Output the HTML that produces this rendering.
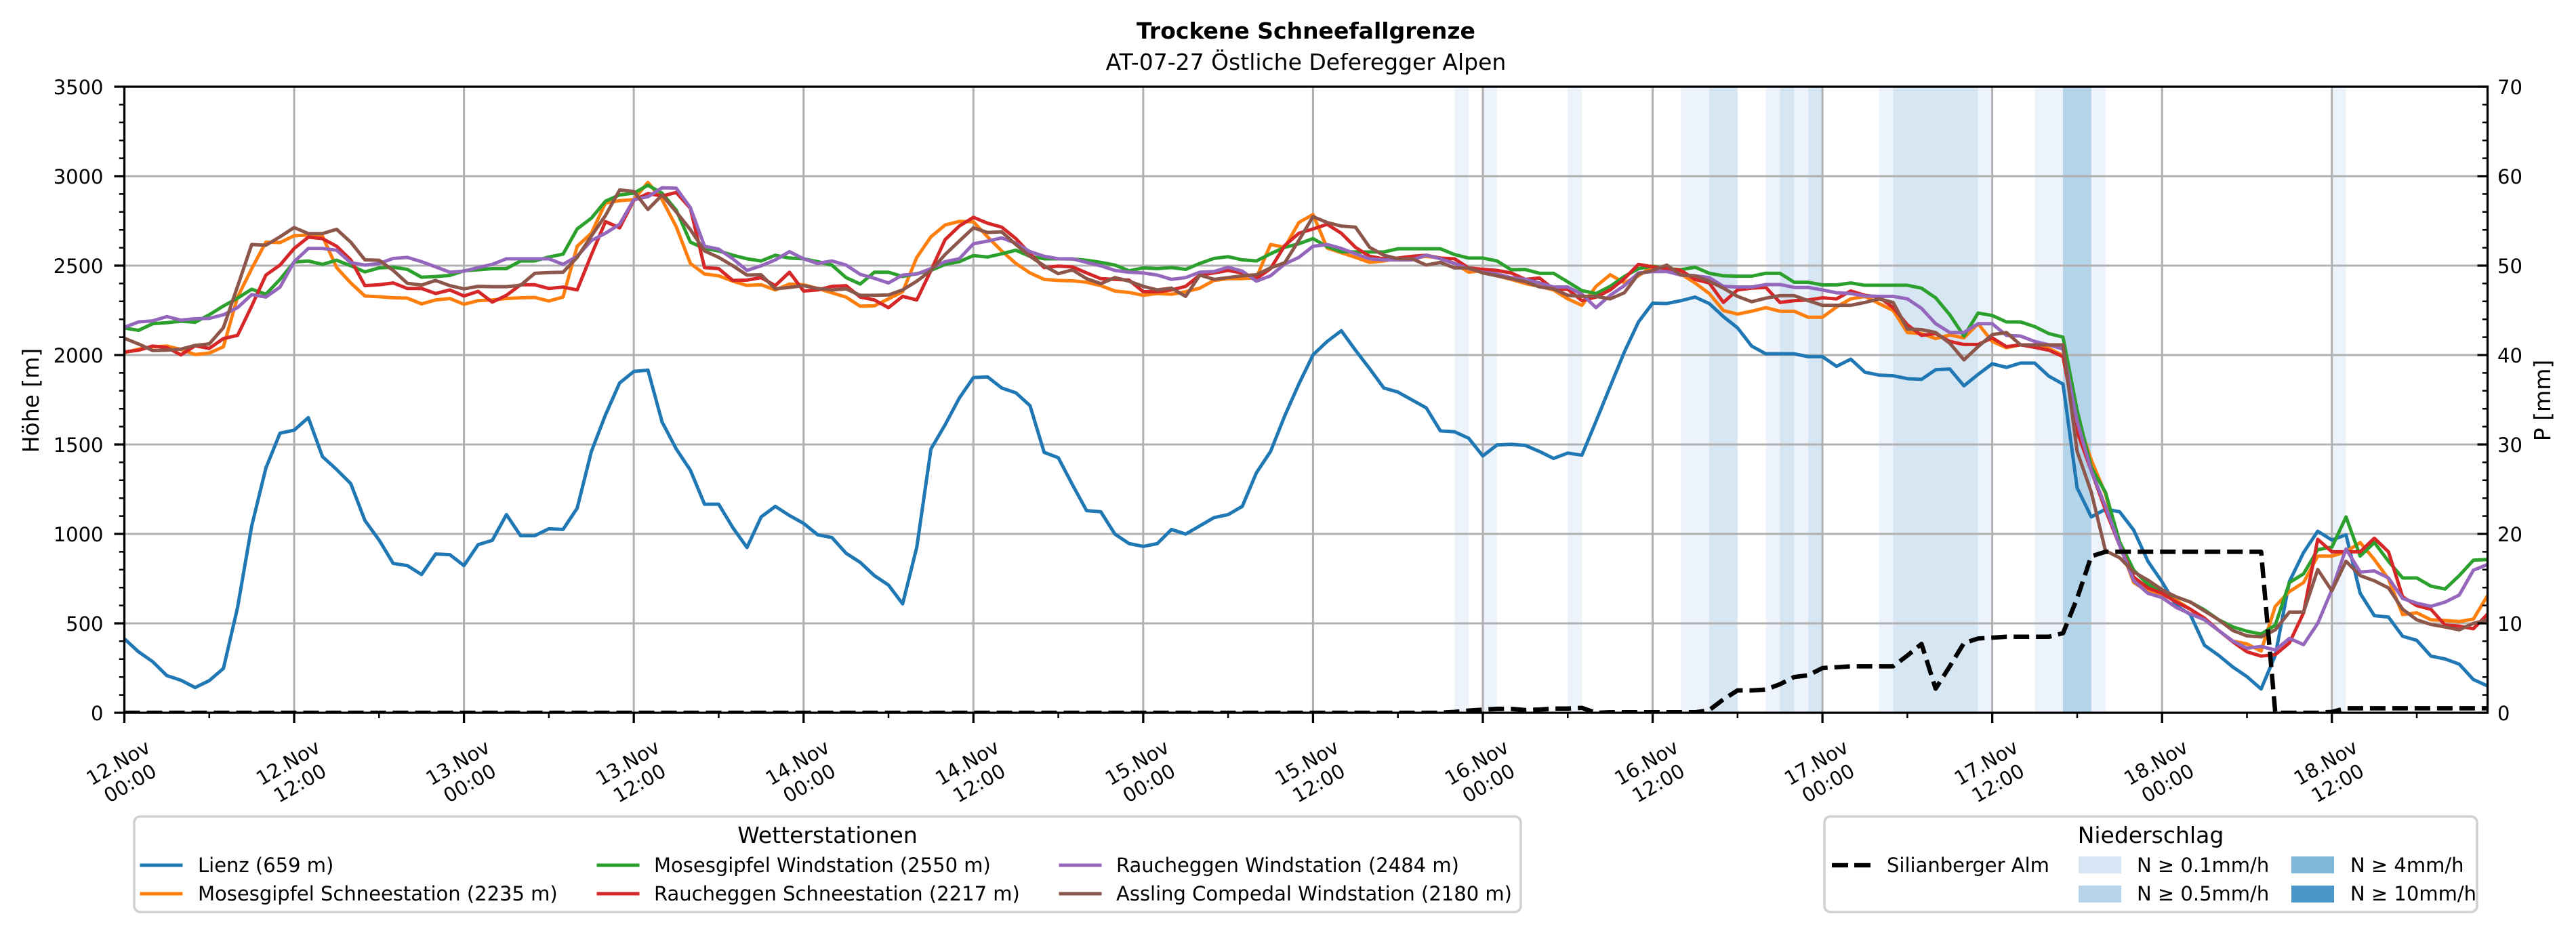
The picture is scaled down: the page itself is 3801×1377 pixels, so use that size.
<!DOCTYPE html>
<html><head><meta charset="utf-8"><style>
html,body{margin:0;padding:0;background:#fff;width:3801px;height:1377px;overflow:hidden}
svg{display:block}
text{font-family:"DejaVu Sans","Liberation Sans",sans-serif;fill:#000}
.d polyline{vector-effect:non-scaling-stroke;fill:none;stroke-width:5;stroke-linejoin:round;stroke-linecap:square}
.tk{font-size:29px}
</style></head><body>
<svg xmlns="http://www.w3.org/2000/svg" width="3801" height="1377" viewBox="0 0 3801 1377">
<defs><clipPath id="c"><rect x="183.5" y="128" width="3487" height="924"/></clipPath></defs>
<rect width="3801" height="1377" fill="#fff"/>

<g clip-path="url(#c)">
<g transform="translate(183.5 1052) scale(20.88 -0.264)">
<rect x="94" y="0" width="1" height="3500" fill="#edf3fb"/>
<rect x="96" y="0" width="1" height="3500" fill="#edf3fb"/>
<rect x="102" y="0" width="1" height="3500" fill="#edf3fb"/>
<rect x="110" y="0" width="2" height="3500" fill="#edf3fb"/>
<rect x="112" y="0" width="2" height="3500" fill="#d6e6f3"/>
<rect x="116" y="0" width="1" height="3500" fill="#edf3fb"/>
<rect x="117" y="0" width="1" height="3500" fill="#d6e6f3"/>
<rect x="118" y="0" width="1" height="3500" fill="#edf3fb"/>
<rect x="119" y="0" width="1" height="3500" fill="#d6e6f3"/>
<rect x="124" y="0" width="1" height="3500" fill="#edf3fb"/>
<rect x="125" y="0" width="6" height="3500" fill="#d6e6f3"/>
<rect x="131" y="0" width="1" height="3500" fill="#edf3fb"/>
<rect x="135" y="0" width="2" height="3500" fill="#edf3fb"/>
<rect x="137" y="0" width="2" height="3500" fill="#b4d4e9"/>
<rect x="139" y="0" width="1" height="3500" fill="#edf3fb"/>
<rect x="156" y="0" width="1" height="3500" fill="#edf3fb"/>
</g>
<g stroke="#b0b0b0" stroke-width="3" fill="none">
<path d="M183.5 128V1052M434.06 128V1052M684.62 128V1052M935.18 128V1052M1185.74 128V1052M1436.3 128V1052M1686.86 128V1052M1937.42 128V1052M2187.98 128V1052M2438.54 128V1052M2689.1 128V1052M2939.66 128V1052M3190.22 128V1052M3440.78 128V1052"/>
<path d="M183.5 1052H3670.5M183.5 920H3670.5M183.5 788H3670.5M183.5 656H3670.5M183.5 524H3670.5M183.5 392H3670.5M183.5 260H3670.5M183.5 128H3670.5"/>
</g>
<g class="d" transform="translate(183.5 1052) scale(20.88 -0.264)">
<polyline stroke="#1f77b4" points="0,414 1,341 2,286 3,208 4,182 5,141 6,180 7,248 8,589 9,1045 10,1368 11,1563 12,1580 13,1650 14,1432 15,1360 16,1281 17,1075 18,966 19,835 20,823 21,773 22,888 23,884 24,823 25,940 26,964 27,1108 28,990 29,990 30,1029 31,1025 32,1144 33,1460 34,1666 35,1844 36,1908 37,1916 38,1626 39,1475 40,1356 41,1166 42,1166 43,1035 44,924 45,1095 46,1154 47,1103 48,1059 49,995 50,980 51,892 52,841 53,767 54,714 55,609 56,926 57,1475 58,1610 59,1759 60,1874 61,1878 62,1816 63,1789 64,1717 65,1456 66,1426 67,1275 68,1130 69,1124 70,999 71,946 72,930 73,946 74,1025 75,999 76,1045 77,1091 78,1108 79,1154 80,1342 81,1461 82,1660 83,1838 84,2001 85,2076 86,2136 87,2027 88,1924 89,1816 90,1793 91,1749 92,1705 93,1576 94,1571 95,1535 96,1436 97,1497 98,1501 99,1495 100,1461 101,1422 102,1452 103,1440 104,1630 105,1824 106,2017 107,2185 108,2290 109,2288 110,2304 111,2324 112,2288 113,2215 114,2152 115,2050 116,2007 117,2007 118,2007 119,1991 120,1991 121,1937 122,1977 123,1904 124,1888 125,1884 126,1868 127,1864 128,1918 129,1922 130,1828 131,1892 132,1951 133,1931 134,1955 135,1955 136,1882 137,1838 138,1257 139,1095 140,1138 141,1124 142,1021 143,847 144,732 145,599 146,549 147,377 148,321 149,256 150,202 151,133 152,321 153,734 154,896 155,1015 156,966 157,995 158,668 159,543 160,535 161,428 162,405 163,317 164,301 165,272 166,186 167,150"/>
<polyline stroke="#ff7f0e" points="0,2013 1,2033 2,2046 3,2050 4,2031 5,2003 6,2011 7,2046 8,2324 9,2483 10,2631 11,2629 12,2667 13,2671 14,2665 15,2489 16,2403 17,2330 18,2326 19,2320 20,2318 21,2286 22,2308 23,2316 24,2284 25,2304 26,2308 27,2316 28,2320 29,2322 30,2302 31,2324 32,2608 33,2681 34,2850 35,2863 36,2869 37,2965 38,2869 39,2717 40,2512 41,2453 42,2443 43,2413 44,2389 45,2393 46,2364 47,2397 48,2393 49,2372 50,2348 51,2324 52,2273 53,2275 54,2314 55,2354 56,2546 57,2661 58,2727 59,2747 60,2745 61,2661 62,2582 63,2512 64,2459 65,2423 66,2417 67,2415 68,2407 69,2388 70,2358 71,2350 72,2334 73,2344 74,2340 75,2354 76,2374 77,2417 78,2427 79,2427 80,2433 81,2618 82,2602 83,2741 84,2786 85,2598 86,2572 87,2546 88,2518 89,2526 90,2542 91,2542 92,2552 93,2542 94,2512 95,2463 96,2473 97,2443 98,2423 99,2400 100,2384 101,2364 102,2314 103,2278 104,2384 105,2449 106,2403 107,2443 108,2497 109,2483 110,2453 111,2403 112,2344 113,2249 114,2229 115,2245 116,2265 117,2245 118,2245 119,2211 120,2211 121,2269 122,2314 123,2328 124,2288 125,2249 126,2126 127,2120 128,2092 129,2112 130,2096 131,2175 132,2076 133,2041 134,2057 135,2050 136,2037 137,1997 138,1650 139,1412 140,1224 141,936 142,728 143,678 144,658 145,629 146,579 147,520 148,460 149,401 150,385 151,345 152,595 153,678 154,728 155,876 156,876 157,900 158,952 159,857 160,748 161,549 162,559 163,520 164,516 165,510 166,524 167,655"/>
<polyline stroke="#2ca02c" points="0,2151 1,2138 2,2175 3,2181 4,2189 5,2183 6,2225 7,2274 8,2318 9,2368 10,2340 11,2423 12,2520 13,2526 14,2507 15,2530 16,2499 17,2465 18,2487 19,2491 20,2479 21,2435 22,2439 23,2445 24,2471 25,2477 26,2483 27,2483 28,2526 29,2526 30,2548 31,2564 32,2705 33,2765 34,2860 35,2895 36,2905 37,2949 38,2905 39,2810 40,2631 41,2596 42,2582 43,2558 44,2538 45,2526 46,2558 47,2542 48,2538 49,2522 50,2503 51,2433 52,2397 53,2463 54,2463 55,2439 56,2455 57,2473 58,2507 59,2522 60,2556 61,2548 62,2566 63,2586 64,2552 65,2538 66,2538 67,2537 68,2530 69,2518 70,2503 71,2471 72,2487 73,2483 74,2489 75,2479 76,2512 77,2540 78,2550 79,2532 80,2526 81,2566 82,2602 83,2622 84,2651 85,2606 86,2578 87,2576 88,2576 89,2576 90,2594 91,2594 92,2594 93,2594 94,2562 95,2542 96,2542 97,2526 98,2477 99,2478 100,2457 101,2457 102,2409 103,2360 104,2344 105,2384 106,2439 107,2483 108,2497 109,2483 110,2477 111,2491 112,2457 113,2443 114,2441 115,2441 116,2457 117,2457 118,2407 119,2407 120,2392 121,2392 122,2403 123,2390 124,2390 125,2390 126,2390 127,2374 128,2320 129,2225 130,2106 131,2235 132,2221 133,2185 134,2185 135,2159 136,2120 137,2100 138,1690 139,1372 140,1233 141,956 142,797 143,718 144,674 145,648 146,619 147,575 148,520 149,480 150,456 151,440 152,490 153,728 154,777 155,912 156,926 157,1095 158,876 159,952 160,847 161,754 162,754 163,708 164,692 165,767 166,853 167,857"/>
<polyline stroke="#d62728" points="0,2017 1,2027 2,2050 3,2042 4,2001 5,2052 6,2037 7,2092 8,2110 9,2274 10,2447 11,2503 12,2596 13,2659 14,2651 15,2608 16,2532 17,2388 18,2393 19,2403 20,2372 21,2372 22,2344 23,2364 24,2330 25,2356 26,2296 27,2334 28,2393 29,2393 30,2372 31,2380 32,2364 33,2560 34,2746 35,2711 36,2865 37,2903 38,2889 39,2909 40,2820 41,2489 42,2483 43,2417 44,2419 45,2433 46,2388 47,2463 48,2358 49,2364 50,2384 51,2388 52,2324 53,2308 54,2265 55,2328 56,2308 57,2473 58,2645 59,2721 60,2770 61,2737 62,2715 63,2651 64,2566 65,2489 66,2497 67,2493 68,2459 69,2427 70,2423 71,2419 72,2354 73,2354 74,2364 75,2384 76,2447 77,2459 78,2473 79,2459 80,2427 81,2483 82,2612 83,2681 84,2705 85,2731 86,2681 87,2602 88,2552 89,2538 90,2542 91,2552 92,2558 93,2542 94,2538 95,2487 96,2479 97,2473 98,2459 99,2423 100,2431 101,2368 102,2368 103,2304 104,2324 105,2364 106,2427 107,2507 108,2493 109,2483 110,2473 111,2423 112,2403 113,2294 114,2364 115,2374 116,2378 117,2294 118,2304 119,2308 120,2320 121,2314 122,2358 123,2334 124,2324 125,2265 126,2169 127,2110 128,2120 129,2076 130,2059 131,2059 132,2096 133,2047 134,2057 135,2043 136,2027 137,1991 138,1571 139,1352 140,1134 141,936 142,758 143,698 144,668 145,619 146,579 147,529 148,460 149,397 150,341 151,317 152,325 153,391 154,559 155,970 156,900 157,900 158,900 159,976 160,900 161,648 162,599 163,579 164,490 165,484 166,470 167,551"/>
<polyline stroke="#9467bd" points="0,2155 1,2185 2,2191 3,2215 4,2195 5,2203 6,2205 7,2225 8,2265 9,2338 10,2324 11,2380 12,2522 13,2596 14,2596 15,2586 16,2516 17,2503 18,2512 19,2540 20,2546 21,2522 22,2493 23,2463 24,2469 25,2489 26,2507 27,2538 28,2538 29,2538 30,2538 31,2507 32,2552 33,2640 34,2681 35,2731 36,2869 37,2885 38,2935 39,2933 40,2824 41,2608 42,2592 43,2538 44,2473 45,2499 46,2532 47,2578 48,2538 49,2512 50,2526 51,2503 52,2451 53,2429 54,2403 55,2447 56,2453 57,2483 58,2522 59,2538 60,2622 61,2637 62,2655 63,2625 64,2578 65,2552 66,2538 67,2538 68,2518 69,2499 70,2473 71,2463 72,2459 73,2447 74,2423 75,2433 76,2463 77,2467 78,2491 79,2469 80,2413 81,2443 82,2509 83,2546 84,2608 85,2618 86,2596 87,2566 88,2538 89,2532 90,2532 91,2532 92,2558 93,2538 94,2512 95,2483 96,2463 97,2453 98,2433 99,2423 100,2403 101,2380 102,2380 103,2340 104,2265 105,2334 106,2388 107,2459 108,2467 109,2467 110,2447 111,2443 112,2433 113,2384 114,2380 115,2380 116,2394 117,2394 118,2378 119,2378 120,2364 121,2348 122,2344 123,2330 124,2328 125,2328 126,2314 127,2261 128,2175 129,2126 130,2126 131,2175 132,2175 133,2110 134,2106 135,2076 136,2057 137,2033 138,1630 139,1352 140,1154 141,936 142,738 143,668 144,644 145,589 146,553 147,520 148,460 149,401 150,361 151,371 152,351 153,416 154,381 155,500 156,688 157,916 158,787 159,793 160,754 161,639 162,613 163,595 164,619 165,658 166,797 167,829"/>
<polyline stroke="#8c564b" points="0,2094 1,2062 2,2025 3,2027 4,2033 5,2054 6,2062 7,2153 8,2384 9,2618 10,2614 11,2661 12,2713 13,2679 14,2679 15,2703 16,2631 17,2532 18,2530 19,2473 20,2401 21,2391 22,2417 23,2388 24,2370 25,2384 26,2382 27,2382 28,2390 29,2457 30,2461 31,2463 32,2546 33,2665 34,2780 35,2923 36,2915 37,2814 38,2895 39,2800 40,2701 41,2582 42,2546 43,2499 44,2447 45,2449 46,2370 47,2378 48,2388 49,2372 50,2364 51,2370 52,2334 53,2334 54,2336 55,2364 56,2413 57,2473 58,2562 59,2637 60,2711 61,2685 62,2689 63,2618 64,2552 65,2499 66,2455 67,2476 68,2427 69,2399 70,2433 71,2413 72,2384 73,2364 74,2374 75,2328 76,2447 77,2423 78,2433 79,2443 80,2449 81,2487 82,2516 83,2641 84,2774 85,2741 86,2721 87,2715 88,2602 89,2558 90,2538 91,2538 92,2503 93,2518 94,2487 95,2487 96,2459 97,2443 98,2427 99,2410 100,2381 101,2370 102,2334 103,2328 104,2328 105,2314 106,2348 107,2453 108,2473 109,2503 110,2447 111,2443 112,2413 113,2374 114,2328 115,2298 116,2318 117,2332 118,2332 119,2304 120,2278 121,2278 122,2278 123,2294 124,2314 125,2294 126,2146 127,2142 128,2126 129,2066 130,1973 131,2047 132,2114 133,2126 134,2057 135,2057 136,2057 137,2057 138,1461 139,1233 140,906 141,867 142,787 143,742 144,688 145,648 146,619 147,569 148,520 149,460 150,430 151,424 152,464 153,563 154,563 155,801 156,682 157,847 158,767 159,738 160,698 161,579 162,520 163,494 164,480 165,464 166,500 167,520"/>
</g>
<polyline fill="none" stroke="#000" stroke-width="6.5" stroke-dasharray="23 10" stroke-linejoin="round" points="183.5,1052 2125.3,1052 2146.2,1050.7 2167.1,1048.7 2188,1047.4 2208.9,1046.1 2229.7,1046.1 2250.6,1048 2271.5,1047.2 2292.4,1045.7 2313.3,1045.7 2334.1,1044.7 2355,1052 2375.9,1051.3 2501.2,1051.3 2522.1,1048 2542.9,1032.2 2563.8,1019 2584.7,1019 2605.6,1017.7 2626.5,1009.8 2647.3,999.2 2668.2,996.6 2689.1,986 2710,984.7 2730.9,983.4 2793.5,983.4 2814.4,967.5 2835.3,950.4 2856.1,1016.4 2877,983.4 2897.9,949 2918.8,942.4 2939.7,941.1 2960.5,939.8 3023.2,939.8 3044.1,934.5 3064.9,883 3085.8,821 3106.7,814.4 3336.4,814.4 3357.3,1052 3419.9,1052 3440.8,1050.7 3461.7,1045.4 3670.5,1045.4"/>
</g>

<!-- spines -->
<rect x="183.5" y="128" width="3487" height="924" fill="none" stroke="#000" stroke-width="3.3"/>

<!-- x ticks -->
<path stroke="#000" stroke-width="3.3" d="M183.5 1052v15M434.06 1052v15M684.62 1052v15M935.18 1052v15M1185.74 1052v15M1436.3 1052v15M1686.86 1052v15M1937.42 1052v15M2187.98 1052v15M2438.54 1052v15M2689.1 1052v15M2939.66 1052v15M3190.22 1052v15M3440.78 1052v15"/>
<path stroke="#000" stroke-width="2.5" d="M308.78 1052v8M559.34 1052v8M809.9 1052v8M1060.46 1052v8M1311.02 1052v8M1561.58 1052v8M1812.14 1052v8M2062.7 1052v8M2313.26 1052v8M2563.82 1052v8M2814.38 1052v8M3064.94 1052v8M3315.5 1052v8M3566.06 1052v8"/>
<!-- left y ticks -->
<path stroke="#000" stroke-width="3.3" d="M168.5 1052h15M168.5 920h15M168.5 788h15M168.5 656h15M168.5 524h15M168.5 392h15M168.5 260h15M168.5 128h15"/>
<path stroke="#000" stroke-width="2.5" d="M175.8 1025.6h7.7M175.8 999.2h7.7M175.8 972.8h7.7M175.8 946.4h7.7M175.8 893.6h7.7M175.8 867.2h7.7M175.8 840.8h7.7M175.8 814.4h7.7M175.8 761.6h7.7M175.8 735.2h7.7M175.8 708.8h7.7M175.8 682.4h7.7M175.8 629.6h7.7M175.8 603.2h7.7M175.8 576.8h7.7M175.8 550.4h7.7M175.8 497.6h7.7M175.8 471.2h7.7M175.8 444.8h7.7M175.8 418.4h7.7M175.8 365.6h7.7M175.8 339.2h7.7M175.8 312.8h7.7M175.8 286.4h7.7M175.8 233.6h7.7M175.8 207.2h7.7M175.8 180.8h7.7M175.8 154.4h7.7"/>
<!-- right y ticks (inward) -->
<path stroke="#000" stroke-width="3.3" d="M3655.5 1052h15M3655.5 920h15M3655.5 788h15M3655.5 656h15M3655.5 524h15M3655.5 392h15M3655.5 260h15M3655.5 128h15"/>
<path stroke="#000" stroke-width="2.5" d="M3662.8 1025.6h7.7M3662.8 999.2h7.7M3662.8 972.8h7.7M3662.8 946.4h7.7M3662.8 893.6h7.7M3662.8 867.2h7.7M3662.8 840.8h7.7M3662.8 814.4h7.7M3662.8 761.6h7.7M3662.8 735.2h7.7M3662.8 708.8h7.7M3662.8 682.4h7.7M3662.8 629.6h7.7M3662.8 603.2h7.7M3662.8 576.8h7.7M3662.8 550.4h7.7M3662.8 497.6h7.7M3662.8 471.2h7.7M3662.8 444.8h7.7M3662.8 418.4h7.7M3662.8 365.6h7.7M3662.8 339.2h7.7M3662.8 312.8h7.7M3662.8 286.4h7.7M3662.8 233.6h7.7M3662.8 207.2h7.7M3662.8 180.8h7.7M3662.8 154.4h7.7"/>

<!-- left tick labels -->
<g class="tk" text-anchor="end">
<text x="152.5" y="1063">0</text>
<text x="152.5" y="931">500</text>
<text x="152.5" y="799">1000</text>
<text x="152.5" y="667">1500</text>
<text x="152.5" y="535">2000</text>
<text x="152.5" y="403">2500</text>
<text x="152.5" y="271">3000</text>
<text x="152.5" y="139">3500</text>
</g>
<!-- right tick labels -->
<g class="tk" text-anchor="start">
<text x="3685" y="1063">0</text>
<text x="3685" y="931">10</text>
<text x="3685" y="799">20</text>
<text x="3685" y="667">30</text>
<text x="3685" y="535">40</text>
<text x="3685" y="403">50</text>
<text x="3685" y="271">60</text>
<text x="3685" y="139">70</text>
</g>

<!-- x tick labels -->
<g class="tk" text-anchor="middle">
<g transform="translate(184.5 1143) rotate(-30)"><text y="-10">12.Nov</text><text y="25">00:00</text></g>
<g transform="translate(435.1 1143) rotate(-30)"><text y="-10">12.Nov</text><text y="25">12:00</text></g>
<g transform="translate(685.6 1143) rotate(-30)"><text y="-10">13.Nov</text><text y="25">00:00</text></g>
<g transform="translate(936.2 1143) rotate(-30)"><text y="-10">13.Nov</text><text y="25">12:00</text></g>
<g transform="translate(1186.7 1143) rotate(-30)"><text y="-10">14.Nov</text><text y="25">00:00</text></g>
<g transform="translate(1437.3 1143) rotate(-30)"><text y="-10">14.Nov</text><text y="25">12:00</text></g>
<g transform="translate(1687.9 1143) rotate(-30)"><text y="-10">15.Nov</text><text y="25">00:00</text></g>
<g transform="translate(1938.4 1143) rotate(-30)"><text y="-10">15.Nov</text><text y="25">12:00</text></g>
<g transform="translate(2189 1143) rotate(-30)"><text y="-10">16.Nov</text><text y="25">00:00</text></g>
<g transform="translate(2439.5 1143) rotate(-30)"><text y="-10">16.Nov</text><text y="25">12:00</text></g>
<g transform="translate(2690.1 1143) rotate(-30)"><text y="-10">17.Nov</text><text y="25">00:00</text></g>
<g transform="translate(2940.7 1143) rotate(-30)"><text y="-10">17.Nov</text><text y="25">12:00</text></g>
<g transform="translate(3191.2 1143) rotate(-30)"><text y="-10">18.Nov</text><text y="25">00:00</text></g>
<g transform="translate(3441.8 1143) rotate(-30)"><text y="-10">18.Nov</text><text y="25">12:00</text></g>
</g>

<!-- axis labels -->
<text transform="translate(57 591) rotate(-90)" text-anchor="middle" font-size="33">Höhe [m]</text>
<text transform="translate(3763 591) rotate(-90)" text-anchor="middle" font-size="33">P [mm]</text>

<!-- titles -->
<text x="1927" y="57" text-anchor="middle" font-size="33" font-weight="bold">Trockene Schneefallgrenze</text>
<text x="1927" y="103" text-anchor="middle" font-size="33">AT-07-27 Östliche Deferegger Alpen</text>

<!-- legend 1 -->
<rect x="198" y="1205" width="2046" height="141" rx="9" fill="#fff" stroke="#d0d0d0" stroke-width="3.5"/>
<text x="1221" y="1244" text-anchor="middle" font-size="33">Wetterstationen</text>
<g stroke-width="5" stroke-linecap="square">
<path d="M209 1277h58" stroke="#1f77b4"/>
<path d="M209 1319h58" stroke="#ff7f0e"/>
<path d="M883 1277h58" stroke="#2ca02c"/>
<path d="M883 1319h58" stroke="#d62728"/>
<path d="M1565 1277h58" stroke="#9467bd"/>
<path d="M1565 1319h58" stroke="#8c564b"/>
</g>
<g class="tk">
<text x="292" y="1287">Lienz (659 m)</text>
<text x="292" y="1329">Mosesgipfel Schneestation (2235 m)</text>
<text x="965" y="1287">Mosesgipfel Windstation (2550 m)</text>
<text x="965" y="1329">Raucheggen Schneestation (2217 m)</text>
<text x="1647" y="1287">Raucheggen Windstation (2484 m)</text>
<text x="1647" y="1329">Assling Compedal Windstation (2180 m)</text>
</g>

<!-- legend 2 -->
<rect x="2692" y="1205" width="963" height="141" rx="9" fill="#fff" stroke="#d0d0d0" stroke-width="3.5"/>
<text x="3173.5" y="1244" text-anchor="middle" font-size="33">Niederschlag</text>
<path d="M2703 1277h58" stroke="#000" stroke-width="6.5" stroke-dasharray="24 9"/>
<rect x="3067" y="1264" width="63" height="25" fill="#d6e6f4"/>
<rect x="3067" y="1307" width="63" height="25" fill="#b7d4ea"/>
<rect x="3381" y="1264" width="63" height="25" fill="#7fb8da"/>
<rect x="3381" y="1307" width="63" height="25" fill="#4a98c9"/>
<g class="tk">
<text x="2784" y="1287">Silianberger Alm</text>
<text x="3153" y="1287">N ≥ 0.1mm/h</text>
<text x="3153" y="1329">N ≥ 0.5mm/h</text>
<text x="3468" y="1287">N ≥ 4mm/h</text>
<text x="3468" y="1329">N ≥ 10mm/h</text>
</g>
</svg>
</body></html>
